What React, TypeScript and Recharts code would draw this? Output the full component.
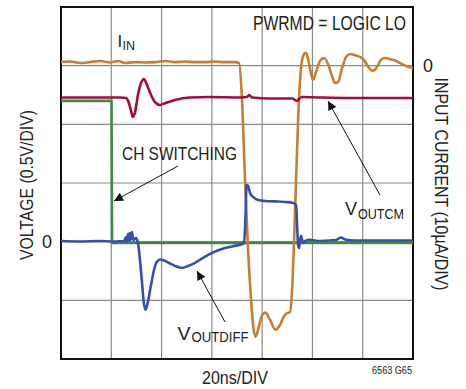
import React from 'react';
import {
  LineChart,
  Line,
  XAxis,
  YAxis,
  CartesianGrid,
  ReferenceArea
} from 'recharts';

// time axis: 20ns/div, 7 divisions
const timeTicks = [0, 20, 40, 60, 80, 100, 120, 140];
// left axis: 0.5V/div
const voltTicks = [-1, -0.5, 0, 0.5, 1, 1.5, 2];
// right axis: 10uA/div
const currentTicks = [-50, -40, -30, -20, -10, 0, 10];

// I_IN (uA)
const iinTime = [
  0, 3.6, 7.6, 11.5, 15.5, 19.5, 22.7, 25.5, 29.4, 33.4, 37.4, 41.4, 45.3, 49.3, 53.3, 57.3, 61.3, 65.2, 69.2, 70.8,
  72.0, 73.2, 74.4, 75.6, 76.4, 77.3, 78.4, 80.0, 81.3, 83.1, 85.3, 87.1, 88.7, 89.9, 91.1, 91.9, 92.7, 93.5, 94.3,
  95.1, 95.9, 96.7, 97.5, 98.3, 99.5, 100.2, 101.4, 103.0, 104.6, 106.2, 107.8, 109.0, 110.2, 111.8, 113.4, 114.9,
  116.9, 118.9, 120.5, 122.5, 124.1, 125.7, 127.3, 128.9, 130.9, 133.3, 135.6, 138.0, 140
];
const iinValues = [
  0.63, 0.7, 0.45, 0.6, 0.8, 0.55, 0.8, 0.45, 0.6, 0.55, 0.6, 0.8, 0.6, 0.7, 0.6, 0.6, 0.7, 0.6, 0.6, 0.45,
  -5.9, -19.5, -31.4, -39.9, -44.2, -46.2, -45.0, -42.5, -42.1, -43.3, -45.0, -44.2, -42.7, -42.2, -42.0, -38.2,
  -29.7, -19.5, -9.3, -2.4, 1.0, 2.0, 2.2, 1.0, -1.4, -2.4, -1.1, 0.8, 1.3, 0.3, -1.8, -2.95, -2.8, -0.4, 1.5,
  2.0, 1.8, 1.5, 1.0, -0.4, -0.9, -0.2, 1.0, 1.3, 1.1, 0.8, 0.3, -0.2, -0.4
];

// V_OUTCM (V)
const cmTime = [
  0, 7.6, 15.5, 23.5, 25.9, 26.7, 27.8, 28.6, 29.4, 30.6, 31.8, 33.0, 34.2, 35.8, 37.4, 39.4, 41.4, 45.3, 51.3,
  59.3, 71.2, 74.0, 74.8, 76.0, 83.1, 91.9, 93.9, 94.7, 95.9, 103.0, 114.9, 126.9, 140
];
const cmValues = [
  1.229, 1.229, 1.229, 1.229, 1.225, 1.2, 1.12, 1.063, 1.1, 1.25, 1.35, 1.387, 1.336, 1.25, 1.19, 1.165, 1.18,
  1.208, 1.229, 1.233, 1.229, 1.233, 1.25, 1.229, 1.22, 1.22, 1.2, 1.216, 1.233, 1.229, 1.225, 1.225, 1.225
];

// CH switching (V)
const chTime = [0, 20.1, 20.3, 140];
const chValues = [1.2, 1.2, -0.01, -0.01];

// V_OUTDIFF (V)
const diffTime = [
  0, 7.6, 15.5, 21.5, 25.1, 25.9, 26.3, 26.7, 27.0, 27.4, 27.8, 28.2, 28.8, 29.8, 30.6, 31.4, 32.2, 33.0, 33.6,
  34.6, 35.8, 37.0, 38.2, 39.4, 41.0, 43.4, 45.7, 48.1, 50.5, 53.3, 56.5, 60.1, 64.0, 68.8, 72.8, 73.4, 73.8,
  74.4, 75.2, 76.4, 78.4, 81.1, 85.1, 89.1, 92.3, 93.5, 93.9, 94.3, 94.7, 95.1, 95.5, 95.9, 96.3, 97.1, 99.0,
  103.0, 107.0, 109.4, 111.4, 113.0, 116.9, 126.9, 140
];
const diffValues = [
  0.006, 0.002, 0.006, 0.002, 0.006, 0.04, 0, 0.066, 0.006, 0.074, 0.015, 0.083, 0.015, 0.03, -0.01, -0.156,
  -0.343, -0.53, -0.58, -0.51, -0.37, -0.24, -0.17, -0.152, -0.16, -0.186, -0.21, -0.224, -0.207, -0.18, -0.139,
  -0.096, -0.062, -0.037, -0.015, 0.228, 0.483, 0.475, 0.415, 0.381, 0.355, 0.347, 0.343, 0.338, 0.33, 0.313,
  0.142, -0.028, -0.054, 0.014, 0.049, 0.014, -0.011, 0.006, 0.015, 0.006, 0.01, 0.015, 0.036, 0.019, 0.01, 0.01,
  0.01
];

const toSeries = (t: number[], v: number[]) => t.map((x, i) => ({ t: x, v: v[i] }));

const iinData = toSeries(iinTime, iinValues);
const cmData = toSeries(cmTime, cmValues);
const chData = toSeries(chTime, chValues);
const diffData = toSeries(diffTime, diffValues);

const FONT = '"Liberation Sans", Arial, sans-serif';
const W = 466;
const H = 389;

const zeroOnly = (v: number) => (v === 0 ? '0' : '');
const blank = () => '';

// condensed look: squeeze each string to the width measured in the reference
const Label: React.FC<{ x?: number; y?: number; size: number; len?: number; anchor?: string; transform?: string; children: string }> = ({
  x = 0,
  y = 0,
  size,
  len,
  anchor = 'start',
  transform,
  children
}) => (
  <text
    x={x}
    y={y}
    fontSize={size}
    textAnchor={anchor}
    transform={transform}
    textLength={len}
    lengthAdjust={len ? 'spacingAndGlyphs' : undefined}
  >
    {children}
  </text>
);

const Annotations: React.FC = () => (
  <svg
    width={W}
    height={H}
    style={{ position: 'absolute', left: 0, top: 0, pointerEvents: 'none' }}
    fontFamily={FONT}
    fill="#222"
  >
    <defs>
      <marker id="arrow" viewBox="0 0 10 10" refX="10" refY="5" markerWidth="11" markerHeight="9" orient="auto" markerUnits="userSpaceOnUse">
        <path d="M0,0 L10,5 L0,10 z" fill="#111" />
      </marker>
    </defs>

    <Label x={253} y={30} size={19.5} len={153}>PWRMD = LOGIC LO</Label>

    <Label x={117.5} y={46.5} size={17}>I</Label>
    <Label x={122.5} y={50} size={12.5} len={12.5}>IN</Label>

    <Label x={122} y={160} size={18.5} len={115}>CH SWITCHING</Label>
    <line x1={178} y1={166} x2={114} y2={201} stroke="#111" strokeWidth={1} markerEnd="url(#arrow)" />

    <Label x={345} y={215} size={19} len={12}>V</Label>
    <Label x={358} y={219} size={15} len={46}>OUTCM</Label>
    <line x1={380} y1={195} x2={328} y2={101} stroke="#111" strokeWidth={1} markerEnd="url(#arrow)" />

    <Label x={177.5} y={340} size={19} len={13}>V</Label>
    <Label x={191.5} y={342} size={15} len={57}>OUTDIFF</Label>
    <line x1={225} y1={322} x2={197} y2={271} stroke="#111" strokeWidth={1} markerEnd="url(#arrow)" />

    <Label transform="translate(33,185) rotate(-90)" size={18} len={150} anchor="middle">VOLTAGE (0.5V/DIV)</Label>
    <Label transform="translate(435,184) rotate(90)" size={18} len={213} anchor="middle">INPUT CURRENT (10µA/DIV)</Label>

    <Label x={235} y={384} size={19} len={66} anchor="middle">20ns/DIV</Label>
    <Label x={412} y={374} size={10} len={40} anchor="end">6563 G65</Label>
  </svg>
);

export default function App() {
  return (
    <div style={{ position: 'absolute', left: 0, top: 0, width: W, height: H, background: '#fff' }}>
      <LineChart width={W} height={H} margin={{ top: 7, right: 0, bottom: 0, left: 0 }}>
        <CartesianGrid yAxisId="v" stroke="#8a8a8a" strokeWidth={1.2} />
        <XAxis
          dataKey="t"
          type="number"
          domain={[0, 140]}
          ticks={timeTicks}
          tickFormatter={blank}
          tickLine={false}
          axisLine={false}
          height={30}
          allowDataOverflow
        />
        <YAxis
          yAxisId="v"
          type="number"
          domain={[-1, 2]}
          ticks={voltTicks}
          tickFormatter={zeroOnly}
          tickLine={false}
          tickSize={0}
          tickMargin={9}
          axisLine={false}
          width={61}
          tick={{ fill: '#222', fontSize: 18, fontFamily: FONT }}
          allowDataOverflow
        />
        <YAxis
          yAxisId="i"
          orientation="right"
          type="number"
          domain={[-50, 10]}
          ticks={currentTicks}
          tickFormatter={zeroOnly}
          tickLine={false}
          tickSize={0}
          tickMargin={10}
          axisLine={false}
          width={53}
          tick={{ fill: '#222', fontSize: 18, fontFamily: FONT }}
          allowDataOverflow
        />
        <ReferenceArea yAxisId="v" x1={0} x2={140} y1={-1} y2={2} fill="none" stroke="#111" strokeWidth={2} />
        <Line data={chData} yAxisId="v" dataKey="v" type="linear" stroke="#3B8A45" strokeWidth={2.6} dot={false} isAnimationActive={false} />
        <Line data={iinData} yAxisId="i" dataKey="v" type="monotone" stroke="#C87D33" strokeWidth={2.6} dot={false} isAnimationActive={false} />
        <Line data={cmData} yAxisId="v" dataKey="v" type="monotone" stroke="#A30E38" strokeWidth={2.6} dot={false} isAnimationActive={false} />
        <Line data={diffData} yAxisId="v" dataKey="v" type="monotone" stroke="#3350B0" strokeWidth={2.6} dot={false} isAnimationActive={false} />
      </LineChart>
      <Annotations />
    </div>
  );
}
